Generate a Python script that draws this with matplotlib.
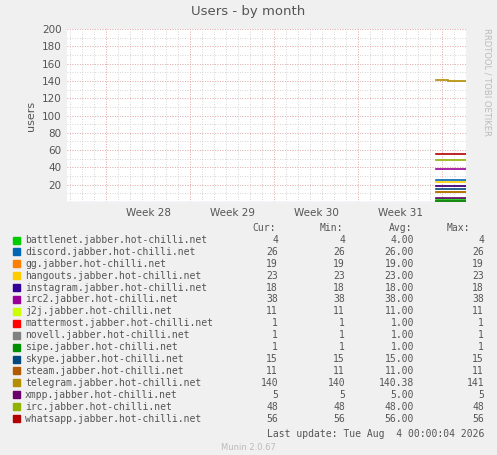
import matplotlib
matplotlib.use("Agg")
import matplotlib.pyplot as plt
import numpy as np

names = ["battlenet","discord","gg","hangouts","instagram","irc2","j2j","mattermost",
         "novell","sipe","skype","steam","telegram","xmpp","irc","whatsapp"]
colors = ["#00CC00","#0066B3","#FF8000","#FFCC00","#330099","#990099","#CCFF00","#FF0000",
          "#808080","#008F00","#00487D","#B35A00","#B38F00","#6B006B","#8FB300","#B30000"]
cur = [4,26,19,23,18,38,11,1,1,1,15,11,140,5,48,56]
mn = [4,26,19,23,18,38,11,1,1,1,15,11,140,5,48,56]
avg = ["4.00","26.00","19.00","23.00","18.00","38.00","11.00","1.00","1.00","1.00","15.00","11.00","140.38","5.00","48.00","56.00"]
mx = [4,26,19,23,18,38,11,1,1,1,15,11,141,5,48,56]
weeks = ["Week 28","Week 29","Week 30","Week 31"]
t_start, t_change, t_end = 30.75, 31.75, 33.25

W, H = 497, 455
fig = plt.figure(figsize=(W/100, H/100), dpi=100, facecolor="#F0F0F0")
ax = fig.add_axes([67/W, 1-202/H, 399/W, 173/H])
ax.set_facecolor("white")
ax.set_xlim(0, 33.25)
ax.set_ylim(0, 200)
mono = "DejaVu Sans Mono"
for i in range(16):
    if names[i] == "telegram":
        ax.plot([t_start, t_change], [mx[i], mx[i]], color=colors[i], lw=1.2, zorder=3)
        ax.plot([t_change, t_end], [cur[i], cur[i]], color=colors[i], lw=1.2, zorder=3)
    else:
        ax.plot([t_start, t_end], [cur[i], cur[i]], color=colors[i], lw=1.2, zorder=3)
for d in np.arange(0, 34, 1):
    ax.axvline(d+0.25, color="#C8C8C8", lw=0.6, ls=(0,(1,2)), zorder=1)
for y in range(10, 201, 10):
    ax.axhline(y, color="#C8C8C8", lw=0.6, ls=(0,(1,2)), zorder=1)
for y in range(20, 201, 20):
    ax.axhline(y, color="#F0A0A0", lw=0.6, ls=(0,(1,2)), zorder=1)
wb = [(106-67)/12 + 7*k for k in range(5)]
for b in wb:
    ax.axvline(b, color="#F0A0A0", lw=0.6, ls=(0,(1,2)), zorder=1)
ax.axhline(0, color="#D0D0F0", lw=1, zorder=2)
ax.set_yticks(range(20, 201, 20))
ax.set_xticks([(wb[k]+wb[k+1])/2 for k in range(4)])
ax.set_xticklabels(weeks)
ax.tick_params(length=0, labelsize=7.5, colors="#555555", pad=4)
for s in ax.spines.values():
    s.set_visible(False)
ax.set_ylabel("users", fontsize=8, color="#555555")
fig.text(0.5, 1-12/H, "Users - by month", ha="center", va="center", fontsize=9.5, color="#555555")
fig.text(487/W, 1-28/H, "RRDTOOL / TOBI OETIKER", rotation=270, ha="center", va="top", fontsize=6, color="#BBBBBB")
fs = 7.0
c = "#555555"
y0 = 228
fig.text(276/W, 1-y0/H, "Cur:", ha="right", va="center", fontsize=fs, family=mono, color=c)
fig.text(343/W, 1-y0/H, "Min:", ha="right", va="center", fontsize=fs, family=mono, color=c)
fig.text(412/W, 1-y0/H, "Avg:", ha="right", va="center", fontsize=fs, family=mono, color=c)
fig.text(470/W, 1-y0/H, "Max:", ha="right", va="center", fontsize=fs, family=mono, color=c)
for i in range(16):
    y = 240 + i*11.9
    fig.patches.append(plt.Rectangle((13/W, 1-(y+3.5)/H), 7/W, 7/H, transform=fig.transFigure, color=colors[i]))
    fig.text(25/W, 1-y/H, names[i]+".jabber.hot-chilli.net", va="center", fontsize=fs, family=mono, color=c)
    for xx, v in [(278, cur[i]), (345, mn[i]), (414, avg[i]), (484, mx[i])]:
        fig.text(xx/W, 1-y/H, str(v), ha="right", va="center", fontsize=fs, family=mono, color=c)
fig.text(484/W, 1-434/H, "Last update: Tue Aug  4 00:00:04 2026", ha="right", va="center", fontsize=fs, family=mono, color=c)
fig.text(0.5, 1-448/H, "Munin 2.0.67", ha="center", va="center", fontsize=6, color="#BBBBBB")
fig.savefig("out.png", dpi=100, facecolor=fig.get_facecolor())
